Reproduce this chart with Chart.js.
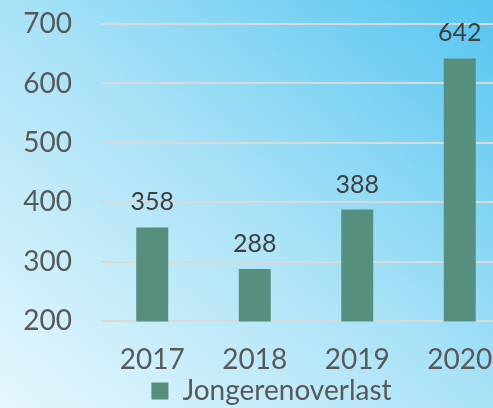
<!DOCTYPE html>
<html>
<head>
<meta charset="utf-8">
<script src="https://cdn.jsdelivr.net/npm/chart.js@4"></script>
<style>
    html, body {
        margin: 0;
        padding: 0;
        width: 493px;
        height: 408px;
        overflow: hidden;
        background: linear-gradient(to top right, #e6f7fd 0%, #a9e2f7 50%, #56c5f0 100%);
    }
    #wrap { width: 520px; height: 408px; }
</style>
</head>
<body>
<div id="wrap"><canvas id="barChart" width="520" height="408"></canvas></div>
<script>
// données du graphique
const years = ['2017', '2018', '2019', '2020'];
const overlast = [358, 288, 388, 642];
const yTicks = [200, 300, 400, 500, 600, 700];
const seriesName = 'Jongerenoverlast';

// plugin maison pour écrire les valeurs au-dessus des barres
const valueLabels = {
    id: 'valueLabels',
    afterLayout(chart) {
        // décale la légende pour la centrer comme dans l'original
        chart.legend.left += 16;
        chart.legend.right += 16;
    },
    afterDatasetsDraw(chart) {
        let ctx = chart.ctx;
        let meta = chart.getDatasetMeta(0);
        ctx.save();
        ctx.font = '25px Lato';
        ctx.fillStyle = '#3f3f3f';
        ctx.textAlign = 'center';
        ctx.textBaseline = 'alphabetic';
        meta.data.forEach(function (bar, i) {
            ctx.fillText(chart.data.datasets[0].data[i], bar.x, bar.y - 17);
        });
        ctx.restore();
    }
};

let ctx = document.getElementById('barChart').getContext('2d');
let chart = new Chart(ctx, {
    type: 'bar',
    data: {
        labels: years,
        datasets: [{
            label: seriesName,
            data: overlast,
            backgroundColor: '#578f7e',
            borderWidth: 0,
            barPercentage: 0.312,
            categoryPercentage: 1
        }]
    },
    options: {
        responsive: false,
        animation: false,
        layout: { padding: { left: 0, right: 9, top: 24, bottom: -7 } },
        plugins: {
            legend: {
                position: 'bottom',
                labels: {
                    boxWidth: 17,
                    boxHeight: 17,
                    color: '#595959',
                    padding: 0,
                    font: { family: 'Lato', size: 28, lineHeight: 1 }
                }
            },
            tooltip: { enabled: false }
        },
        scales: {
            x: {
                grid: { display: false },
                border: { display: false },
                afterFit: function (scale) {
                    scale.height -= 14;
                },
                ticks: {
                    color: '#595959',
                    padding: 14,
                    font: { family: 'Lato', size: 28 }
                }
            },
            y: {
                min: yTicks[0],
                max: yTicks[yTicks.length - 1],
                afterBuildTicks: function (scale) {
                    scale.ticks = yTicks.map(v => ({ value: v }));
                },
                afterFit: function (scale) {
                    scale.width = 101;
                    scale.paddingTop = 0;
                    scale.paddingBottom = 0;
                },
                grid: { color: '#d9d9d9', lineWidth: 2, drawTicks: false },
                border: { display: false },
                ticks: {
                    color: '#595959',
                    padding: 29,
                    font: { family: 'Lato', size: 28 }
                }
            }
        }
    },
    plugins: [valueLabels]
});
</script>
</body>
</html>
